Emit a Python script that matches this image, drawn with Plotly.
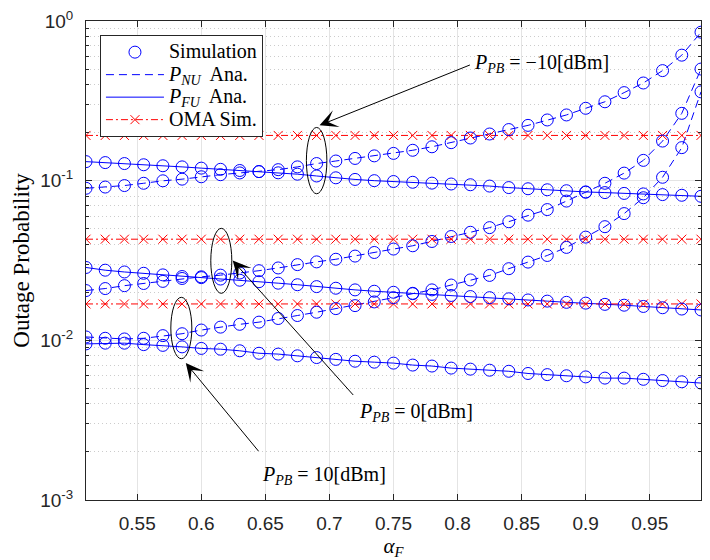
import math
import plotly.graph_objects as go

# ---------------- data ----------------
alpha_F = [0.51, 0.525, 0.54, 0.555, 0.57, 0.585, 0.6, 0.615, 0.63, 0.645, 0.66,
           0.675, 0.69, 0.705, 0.72, 0.735, 0.75, 0.765, 0.78, 0.795, 0.81, 0.825,
           0.84, 0.855, 0.87, 0.885, 0.9, 0.915, 0.93, 0.945, 0.96, 0.975, 0.99]

# P_PB = -10 dBm
nu_m10 = [0.0896, 0.0912, 0.0932, 0.0963, 0.0998, 0.1022, 0.1058, 0.1090, 0.1118, 0.1140,
          0.1172, 0.1220, 0.1280, 0.1328, 0.1378, 0.1430, 0.1482, 0.1550, 0.1630, 0.1730,
          0.1850, 0.1960, 0.2090, 0.2220, 0.2400, 0.2580, 0.2840, 0.3120, 0.3560, 0.4090,
          0.4890, 0.6110, 0.8510]
fu_m10 = [0.1316, 0.1298, 0.1280, 0.1258, 0.1240, 0.1220, 0.1198, 0.1178, 0.1158, 0.1140,
          0.1120, 0.1098, 0.1070, 0.1042, 0.1018, 0.1000, 0.0988, 0.0977, 0.0965, 0.0953,
          0.0943, 0.0925, 0.0905, 0.0890, 0.0877, 0.0865, 0.0850, 0.0842, 0.0832, 0.0826,
          0.0818, 0.0810, 0.0798]

# P_PB = 0 dBm
nu_0 = [0.0205, 0.0211, 0.0220, 0.0227, 0.0234, 0.0244, 0.0250, 0.0256, 0.0264, 0.0273,
        0.0284, 0.0298, 0.0310, 0.0322, 0.0337, 0.0355, 0.0373, 0.0391, 0.0416, 0.0447,
        0.0475, 0.0508, 0.0553, 0.0608, 0.0659, 0.0745, 0.0847, 0.0963, 0.1115, 0.1340,
        0.1770, 0.2640, 0.5000]
fu_0 = [0.0286, 0.0275, 0.0268, 0.0263, 0.0257, 0.0251, 0.0247, 0.0242, 0.0238, 0.0233,
        0.0228, 0.0223, 0.0217, 0.0212, 0.0207, 0.0203, 0.0200, 0.0197, 0.0194, 0.0191,
        0.0188, 0.0185, 0.0182, 0.0179, 0.0176, 0.0173, 0.0171, 0.0168, 0.0166, 0.0163,
        0.0160, 0.0157, 0.0155]

# P_PB = 10 dBm
nu_10 = [0.0105, 0.0103, 0.0102, 0.0103, 0.0107, 0.0110, 0.0116, 0.0121, 0.0126, 0.0130,
         0.0137, 0.0143, 0.0150, 0.0158, 0.0165, 0.0174, 0.0185, 0.0196, 0.0207, 0.0222,
         0.0239, 0.0255, 0.0281, 0.0309, 0.0340, 0.0382, 0.0443, 0.0515, 0.0622, 0.0782,
         0.1050, 0.1610, 0.3600]
fu_10 = [0.0095, 0.0096, 0.0096, 0.0094, 0.0093, 0.0091, 0.0089, 0.0088, 0.0086, 0.0083,
         0.0082, 0.0080, 0.0078, 0.0076, 0.0074, 0.0073, 0.0072, 0.0070, 0.0069, 0.0067,
         0.0066, 0.0065, 0.0064, 0.0062, 0.0061, 0.0060, 0.0059, 0.0058, 0.0058, 0.0057,
         0.0056, 0.0055, 0.0054]

# OMA simulation levels (P_PB = -10, 0, 10 dBm)
oma_levels = [0.192, 0.0430, 0.0169]

x_ticks = [0.55, 0.6, 0.65, 0.7, 0.75, 0.8, 0.85, 0.9, 0.95]
x_tick_labels = ["0.55", "0.6", "0.65", "0.7", "0.75", "0.8", "0.85", "0.9", "0.95"]
y_ticks = [1e-3, 1e-2, 1e-1, 1]
y_tick_labels = ["10<sup>-3</sup>", "10<sup>-2</sup>", "10<sup>-1</sup>", "10<sup>0</sup>"]

pb_labels = ["<i>P</i><sub><i>PB</i></sub> = \u221210[dBm]",
             "<i>P</i><sub><i>PB</i></sub> = 0[dBm]",
             "<i>P</i><sub><i>PB</i></sub> = 10[dBm]"]

legend_names = ["Simulation",
                "<i>P</i><sub><i>NU</i></sub>  Ana.",
                "<i>P</i><sub><i>FU</i></sub>  Ana.",
                "OMA Sim."]

# annotation geometry (data coords): ellipse bounds, arrow tip, arrow tail, label anchor
ellipses = [(0.682, 0.698, 0.0828, 0.2154),
            (0.6074, 0.6238, 0.0197, 0.0503),
            (0.5762, 0.5926, 0.00767, 0.0186)]
arrow_tips = [(0.6923, 0.222), (0.6245, 0.0316), (0.5879, 0.00721)]
arrow_tails = [(0.8108, 0.535), (0.7196, 0.00445), (0.6456, 0.00198)]
label_pos = [(0.8116, 0.54), (0.7216, 0.00354), (0.6456, 0.00143)]

# ---------------- figure ----------------
blue = "rgb(0,0,255)"
red = "rgb(255,0,0)"
serif = "Liberation Serif"


def big(txt, size=20):
    return '<span style="font-size:%dpx">%s</span>' % (size, txt)


fig = go.Figure()

nu_sets = [nu_m10, nu_0, nu_10]
fu_sets = [fu_m10, fu_0, fu_10]

for k, vals in enumerate(nu_sets):
    fig.add_trace(go.Scatter(
        x=alpha_F, y=vals, mode="lines",
        line=dict(color=blue, width=1, dash="8px,5px"),
        name=big(legend_names[1]), legendgroup="nu",
        showlegend=(k == 0), legendrank=2))

for k, vals in enumerate(fu_sets):
    fig.add_trace(go.Scatter(
        x=alpha_F, y=vals, mode="lines",
        line=dict(color=blue, width=1),
        name=big(legend_names[2]), legendgroup="fu",
        showlegend=(k == 0), legendrank=3))

for k, lvl in enumerate(oma_levels):
    fig.add_trace(go.Scatter(
        x=alpha_F, y=[lvl] * len(alpha_F), mode="lines+markers",
        line=dict(color=red, width=1, dash="7px,3px,2px,3px"),
        marker=dict(symbol="x-thin", size=9, line=dict(color=red, width=1)),
        name=big(legend_names[3]), legendgroup="oma",
        showlegend=(k == 0), legendrank=4))

sim_sets = nu_sets + fu_sets
for k, vals in enumerate(sim_sets):
    fig.add_trace(go.Scatter(
        x=alpha_F, y=vals, mode="markers",
        marker=dict(symbol="circle-open", size=12, color=blue, line=dict(color=blue, width=1)),
        name=big(legend_names[0]), legendgroup="sim",
        showlegend=(k == 0), legendrank=1))

for (x0, x1, y0, y1) in ellipses:
    fig.add_shape(type="circle", xref="x", yref="y", x0=x0, x1=x1, y0=y0, y1=y1,
                  line=dict(color="black", width=1))

for (tip, tail, lp, txt) in zip(arrow_tips, arrow_tails, label_pos, pb_labels):
    fig.add_annotation(x=tip[0], y=math.log10(tip[1]), xref="x", yref="y",
                       ax=tail[0], ay=math.log10(tail[1]), axref="x", ayref="y",
                       text="", showarrow=True, arrowhead=3, arrowsize=3,
                       arrowwidth=1, arrowcolor="black", standoff=0, startstandoff=0)
    fig.add_annotation(x=lp[0], y=math.log10(lp[1]), xref="x", yref="y",
                       text=txt, showarrow=False, xanchor="left", yanchor="middle",
                       font=dict(family=serif, size=20, color="black"))

axis_col = "#262626"
grid_col = "#e4e4e4"

fig.update_layout(
    width=710, height=560,
    margin=dict(l=86, r=8, t=18, b=56),
    paper_bgcolor="white", plot_bgcolor="white",
    font=dict(family="Liberation Sans", size=19, color=axis_col),
    showlegend=True,
    legend=dict(x=0.0227, y=0.971, xanchor="left", yanchor="top",
                bgcolor="white", bordercolor=axis_col, borderwidth=1,
                font=dict(family=serif, size=15, color="black"),
                itemwidth=58, tracegroupgap=0, traceorder="normal"),
    xaxis=dict(range=[0.51, 0.99], tickmode="array", tickvals=x_ticks, ticktext=x_tick_labels,
               ticks="inside", ticklen=6, tickcolor=axis_col, mirror="ticks",
               ticklabelstandoff=6,
               showline=True, linecolor=axis_col, linewidth=1,
               showgrid=True, gridcolor=grid_col, gridwidth=1, zeroline=False,
               title=dict(text="<i>\u03b1</i><sub><i>F</i></sub>",
                          font=dict(family=serif, size=21, color="black"), standoff=4)),
    yaxis=dict(type="log", range=[-3, 0], tickmode="array", tickvals=y_ticks, ticktext=y_tick_labels,
               ticks="inside", ticklen=6, tickcolor=axis_col, mirror="ticks",
               ticklabelstandoff=8,
               showline=True, linecolor=axis_col, linewidth=1,
               showgrid=True, gridcolor=grid_col, gridwidth=1, zeroline=False,
               minor=dict(tickvals=[m * 10 ** e for e in (-3, -2, -1) for m in range(2, 10)],
                          ticks="inside", ticklen=3, tickcolor=axis_col,
                          showgrid=True, gridcolor="#cccccc", griddash="1px,3px", gridwidth=1),
               title=dict(text="Outage Probability",
                          font=dict(family=serif, size=23, color="black"), standoff=4)),
)

fig.write_html("out.html")
